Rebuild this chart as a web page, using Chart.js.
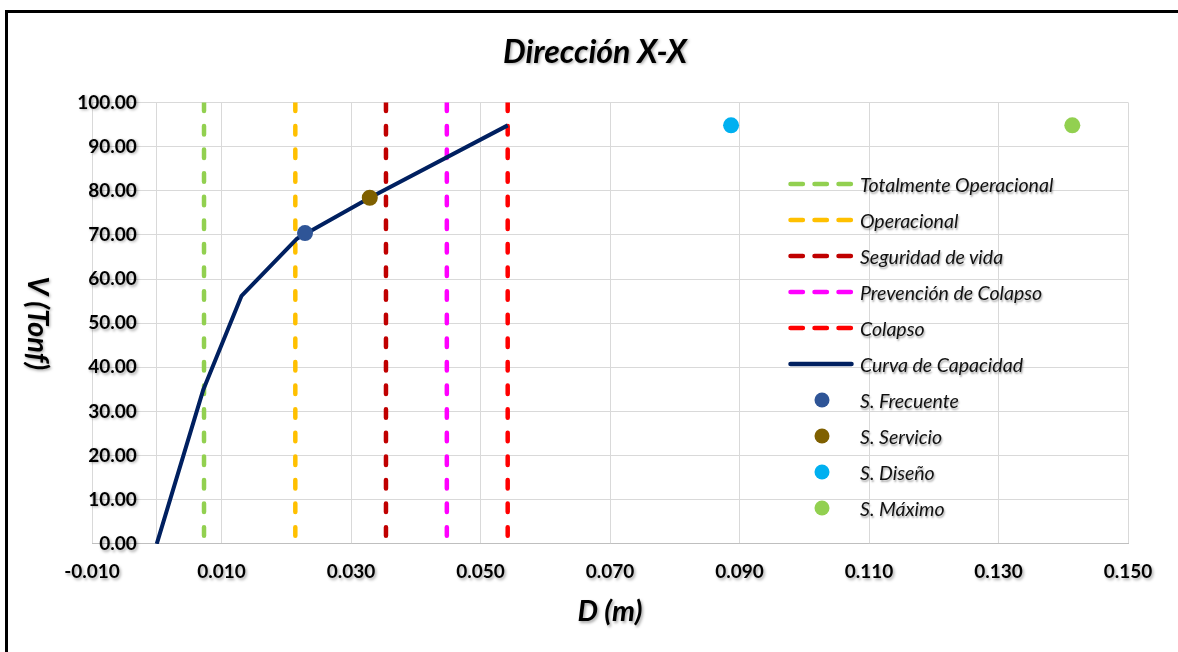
<!DOCTYPE html>
<html lang="es">
<head>
<meta charset="utf-8">
<title>Dirección X-X</title>
<script src="https://cdn.jsdelivr.net/npm/chart.js@4.4.1/dist/chart.umd.min.js"></script>
<style>
  html, body { margin: 0; padding: 0; background: #fff; overflow: hidden; }
  #wrap { position: relative; width: 1178px; height: 652px; }
  #frame { position: absolute; left: 5px; top: 10px; width: 1300px; height: 800px; border: 3px solid #000; pointer-events: none; }
  #legend { position: absolute; left: 788px; top: 166px; font: italic 19.5px Lato, sans-serif; color: #111; }
  .legend-item { display: flex; align-items: center; height: 36px; text-shadow: 1px 1.5px 2px rgba(0,0,0,0.35); }
  .legend-item svg { width: 66px; height: 10px; margin-right: 6px; flex: none; }
</style>
</head>
<body>
<div id="wrap">
  <canvas id="capChart" width="1178" height="652"></canvas>
  <div id="legend"></div>
  <div id="frame"></div>
</div>
<script>
// performance levels (vertical dashed limits)
const LEVEL_NAMES  = ['Totalmente Operacional', 'Operacional', 'Seguridad de vida', 'Prevención de Colapso', 'Colapso'];
const LEVEL_D      = [0.0073, 0.0214, 0.0354, 0.0448, 0.0542];
const LEVEL_COLORS = ['#92D050', '#FFC000', '#C00000', '#FF00FF', '#FF0000'];
const LEVEL_V      = [100, 0];

// pushover capacity curve
const CURVE_NAME  = 'Curva de Capacidad';
const CURVE_D     = [0, 0.0072, 0.0131, 0.0217, 0.0329, 0.0542];
const CURVE_V     = [0, 35.0, 56.2, 69.2, 78.4, 94.8];
const CURVE_COLOR = '#002060';

// seismic demand points
const POINT_NAMES  = ['S. Frecuente', 'S. Servicio', 'S. Diseño', 'S. Máximo'];
const POINT_D      = [0.0229, 0.0329, 0.0887, 0.1414];
const POINT_V      = [70.4, 78.4, 94.8, 94.8];
const POINT_COLORS = ['#2F5597', '#7F6000', '#00B0F0', '#92D050'];

const FONT = 'Lato';
const GRID = '#D9D9D9';
const Y_LABEL_GAP = 20;   // chart.js ignores ticks.padding for an axis placed at a data value

// ─────────────────────────────────────────
// axis text: soft shadow, y labels gap, title centred on the frame
// ─────────────────────────────────────────
const axisText = {
  id: 'axisText',
  afterLayout(chart) {
    const t = chart.titleBlock;
    if (t) { t.left = 12; t.right = chart.width; }
  },
  beforeDraw(chart) {
    const wrap = (obj, name, dx = 0) => {
      const fn = obj[name];
      if (!fn || fn._shadowed) return;
      const wrapped = function (...args) {
        const ctx = chart.ctx;
        ctx.save();
        ctx.translate(dx, 0);
        ctx.shadowColor = 'rgba(0,0,0,0.35)';
        ctx.shadowBlur = 3;
        ctx.shadowOffsetX = 1.5;
        ctx.shadowOffsetY = 1.5;
        fn.apply(this, args);
        ctx.restore();
      };
      wrapped._shadowed = true;
      obj[name] = wrapped;
    };
    wrap(chart.scales.x, 'drawLabels');
    wrap(chart.scales.x, 'drawTitle');
    wrap(chart.scales.y, 'drawLabels', -Y_LABEL_GAP);
    wrap(chart.scales.y, 'drawTitle');
    if (chart.titleBlock) wrap(chart.titleBlock, 'draw');
  }
};

const levelSets = LEVEL_NAMES.map((name, i) => ({
  label: name,
  data: LEVEL_V.map(v => ({ x: LEVEL_D[i], y: v })),
  showLine: true,
  borderColor: LEVEL_COLORS[i],
  borderWidth: 4.5,
  borderDash: [8.5, 15.1],
  borderCapStyle: 'round',
  pointRadius: 0,
  order: 2
}));

const curveSet = {
  label: CURVE_NAME,
  data: CURVE_D.map((d, i) => ({ x: d, y: CURVE_V[i] })),
  showLine: true,
  borderColor: CURVE_COLOR,
  borderWidth: 4,
  borderJoinStyle: 'round',
  pointRadius: 0,
  order: 1
};

const pointSets = POINT_NAMES.map((name, i) => ({
  label: name,
  data: [{ x: POINT_D[i], y: POINT_V[i] }],
  showLine: false,
  pointRadius: 8,
  pointBorderWidth: 0,
  pointBackgroundColor: POINT_COLORS[i],
  order: 0
}));

const tickFont  = { family: FONT, size: 19, weight: 'bold' };
const titleFont = { family: FONT, size: 29, weight: 'bold', style: 'italic', lineHeight: 0.83 };

new Chart(document.getElementById('capChart'), {
  type: 'scatter',
  data: { datasets: [...levelSets, curveSet, ...pointSets] },
  plugins: [axisText],
  options: {
    responsive: false,
    animation: false,
    events: [],
    layout: { padding: { left: 92, right: 50, top: 0, bottom: 24 } },
    plugins: {
      legend: { display: false },
      tooltip: { enabled: false },
      title: {
        display: true,
        text: 'Dirección X-X',
        color: '#000',
        font: { family: FONT, size: 32, weight: 'bold', style: 'italic' },
        padding: { top: 33, bottom: 31 }
      }
    },
    scales: {
      x: {
        type: 'linear',
        min: -0.01,
        max: 0.15,
        ticks: {
          stepSize: 0.02,
          padding: 16.6,
          color: '#000',
          font: tickFont,
          maxRotation: 0,
          autoSkip: false,
          callback: v => v.toFixed(3)
        },
        grid: { color: GRID, drawTicks: false },
        border: { color: '#BFBFBF' },
        title: { display: true, text: 'D (m)', color: '#000', font: titleFont, padding: { top: 0, bottom: 4 } }
      },
      y: {
        type: 'linear',
        position: { x: 0 },
        min: 0,
        max: 100,
        ticks: {
          stepSize: 10,
          padding: Y_LABEL_GAP,
          color: '#000',
          font: tickFont,
          callback: v => v.toFixed(2)
        },
        grid: { color: GRID, drawTicks: false },
        border: { color: GRID },
        title: { display: true, text: 'V (Tonf)', color: '#000', font: titleFont, padding: { top: 8, bottom: 0 } }
      }
    }
  }
});

// ─────────────────────────────────────────
// LEGEND — drawn as HTML inside the plot
// ─────────────────────────────────────────
const dashSymbol = c => `<svg viewBox="0 0 66 10"><line x1="2.5" y1="5" x2="63.5" y2="5" stroke="${c}" stroke-width="4.5" stroke-linecap="round" stroke-dasharray="12.4 11.6"/></svg>`;
const lineSymbol = c => `<svg viewBox="0 0 66 10"><line x1="2.5" y1="5" x2="63.5" y2="5" stroke="${c}" stroke-width="4.5" stroke-linecap="round"/></svg>`;
const dotSymbol  = c => `<svg viewBox="0 0 66 10" style="overflow:visible"><circle cx="34" cy="5" r="7.5" fill="${c}"/></svg>`;

const rows = [
  ...LEVEL_NAMES.map((n, i) => [dashSymbol(LEVEL_COLORS[i]), n]),
  [lineSymbol(CURVE_COLOR), CURVE_NAME],
  ...POINT_NAMES.map((n, i) => [dotSymbol(POINT_COLORS[i]), n])
];
document.getElementById('legend').innerHTML = rows.map(([sym, name]) =>
  `<div class="legend-item">${sym}<span>${name}</span></div>`
).join('');
</script>
</body>
</html>
